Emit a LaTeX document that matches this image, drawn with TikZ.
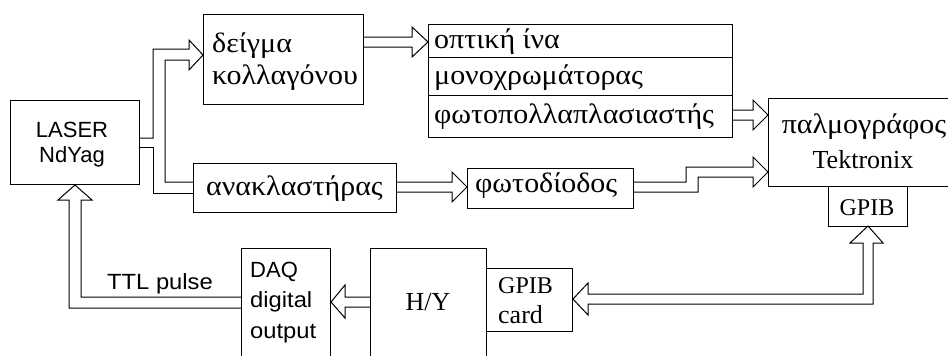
\documentclass[tikz,border=0pt]{standalone}
\usepackage{fontspec}
\setmainfont{Liberation Serif}
\setsansfont{Liberation Sans}
\newfontfamily\grkfont[FakeStretch=1.07]{Liberation Serif}
\newfontfamily\widesans[FakeStretch=1.08]{Liberation Sans}
\begin{document}
\begin{tikzpicture}[x=1pt,y=-1pt,
  box/.style={draw, line width=1pt, inner sep=0pt, anchor=north west},
  fat/.style={draw, line width=1pt, line join=miter},
  grktext/.style={font=\grkfont\fontsize{28}{32}\selectfont, inner sep=0pt},
  sertext/.style={font=\fontsize{26}{30}\selectfont, inner sep=0pt},
  santext/.style={font=\sffamily\fontsize{22}{26}\selectfont, inner sep=0pt},
  wsantext/.style={font=\widesans\fontsize{22}{26}\selectfont, inner sep=0pt}]
\useasboundingbox[fill=white] (0,0) rectangle (948,356);
% boxes
\node[box, minimum width=129, minimum height=84] (laser) at (10,100) {};
\node[box, minimum width=160, minimum height=90] (sample) at (203,14) {};
\node[box, minimum width=304, minimum height=33] (fiber) at (428,24) {};
\node[box, minimum width=304, minimum height=38] (mono) at (428,57) {};
\node[box, minimum width=304, minimum height=42] (pmt) at (428,95) {};
\node[box, minimum width=203, minimum height=49] (refl) at (193,163) {};
\node[box, minimum width=166, minimum height=40] (diode) at (467,168) {};
\node[box, minimum width=200, minimum height=88] (scope) at (768,98) {};
\node[box, minimum width=79, minimum height=40] (gpib) at (828,186) {};
\node[box, minimum width=89, minimum height=120] (daq) at (241,248) {};
\node[box, minimum width=116, minimum height=120] (hy) at (370,248) {};
\node[box, minimum width=86, minimum height=63] (card) at (486,268) {};
% texts
\node[santext, anchor=base] (t1) at (72,137) {LASER};
\node[santext, anchor=base] (t2) at (72,162) {NdYag};
\node[grktext, anchor=base west] (t3) at (212,52) {δείγμα};
\node[grktext, anchor=base west] (t4) at (212,84) {κολλαγόνου};
\node[grktext, anchor=base west] (t5) at (434,48) {οπτική ίνα};
\node[grktext, anchor=base west] (t6) at (434,84) {μονοχρωμάτορας};
\node[grktext, anchor=base west] (t7) at (434,123) {φωτοπολλαπλασιαστής};
\node[grktext, anchor=base west] (t8) at (206,195) {ανακλαστήρας};
\node[grktext, anchor=base west] (t9) at (475,192) {φωτοδίοδος};
\node[grktext, anchor=base] (t10) at (864,133) {παλμογράφος};
\node[sertext, anchor=base] (t11) at (863,168) {Tektronix};
\node[sertext, anchor=base, font=\fontsize{24}{28}\selectfont] (t12) at (867,215) {GPIB};
\node[sertext, anchor=base west, font=\fontsize{24}{28}\selectfont] (t13) at (498,293) {GPIB};
\node[sertext, anchor=base west] (t14) at (498,323) {card};
\node[sertext, anchor=base] (t15) at (428,310) {H/Y};
\node[santext, anchor=base west] (t16) at (250,277) {DAQ};
\node[wsantext, anchor=base west] (t17) at (250,307) {digital};
\node[wsantext, anchor=base west] (t18) at (250,338) {output};
\node[wsantext, anchor=base west] (t19) at (107,289) {TTL pulse};
% connectors
\draw[fat] (laser.east |- 0,138) -- (153,138) -- (153,49) -- (189,49) -- (189,40)
  -- (sample.west |- 0,55) -- (189,70) -- (189,60) -- (165,60) -- (165,182) -- (refl.west |- 0,182);
\draw[fat] (laser.east |- 0,147) -- (153,147) -- (153,193) -- (refl.west |- 0,193);
\draw[fat] (sample.east |- 0,37) -- (412,37) -- (412,27) -- (fiber.west |- 0,42) -- (412,57) -- (412,47) -- (sample.east |- 0,47);
\draw[fat] (pmt.east |- 0,110) -- (753,110) -- (753,100) -- (scope.west |- 0,115) -- (753,130) -- (753,120) -- (pmt.east |- 0,120);
\draw[fat] (refl.east |- 0,182) -- (452,182) -- (452,172) -- (diode.west |- 0,187) -- (452,202) -- (452,192) -- (refl.east |- 0,192);
\draw[fat] (diode.east |- 0,182) -- (686,182) -- (686,167) -- (753,167) -- (753,157) -- (scope.west |- 0,172)
  -- (753,187) -- (753,177) -- (698,177) -- (698,192) -- (diode.east |- 0,192);
\draw[fat] (gpib.south |- 0,226) -- (883,243) -- (873,243) -- (873,304) -- (588,304) -- (588,315)
  -- (card.east |- 0,299) -- (588,283) -- (588,294) -- (863,294) -- (863,243) -- (850,243) -- cycle;
\draw[fat] (hy.west |- 0,297) -- (345,297) -- (345,285) -- (daq.east |- 0,302) -- (345,318) -- (345,307) -- (hy.west |- 0,307);
\draw[fat] (daq.west |- 0,297) -- (81,297) -- (81,200) -- (92,200) -- (laser.south -| 75,0) -- (58,200) -- (69,200) -- (69,308) -- (daq.west |- 0,308);
\end{tikzpicture}
\end{document}
